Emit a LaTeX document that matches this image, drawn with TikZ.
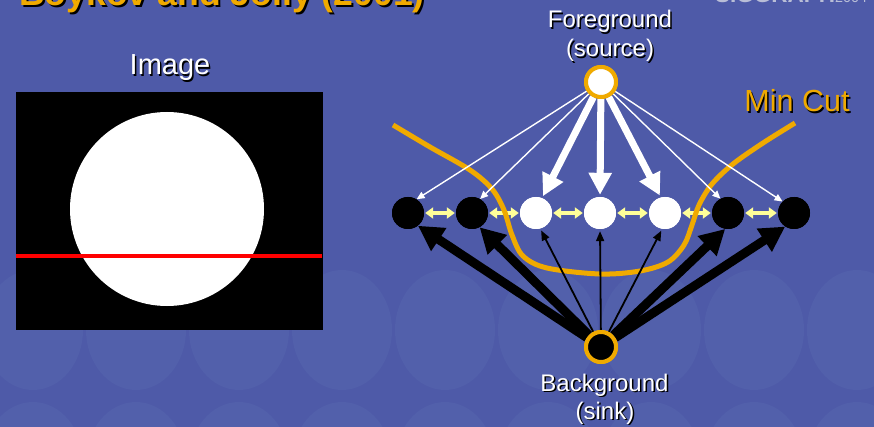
\documentclass[tikz,border=0pt]{standalone}
\usepackage{fontspec}
\setmainfont{Liberation Sans}
\usetikzlibrary{arrows.meta}
\definecolor{bgblue}{RGB}{78,90,168}
\definecolor{bgblob}{RGB}{82,96,171}
\definecolor{cutorange}{RGB}{240,170,0}
\definecolor{pairyellow}{RGB}{255,255,153}
\definecolor{siggrey}{RGB}{185,190,215}
\begin{document}
\begin{tikzpicture}[x=1pt,y=-1pt,
  pix/.style={circle,inner sep=0pt,minimum size=32pt},
  fgpix/.style={pix,fill=white},
  bgpix/.style={pix,fill=black},
  terminal/.style={circle,inner sep=0pt,minimum size=30pt,draw=cutorange,line width=4pt},
  lbl/.style={text=white,font=\fontsize{24}{28}\selectfont,anchor=base,inner sep=0pt},
  biglbl/.style={lbl,font=\fontsize{29}{34}\selectfont},
  cutlbl/.style={lbl,text=cutorange,font=\fontsize{30.5}{36}\selectfont},
  shade/.style={text=black},
  thinw/.style={draw=white,line width=1.4pt,-{Triangle[length=8pt,width=7pt]}},
  thickw/.style={draw=white,line width=7pt,-{Triangle[length=22pt,width=22pt]},shorten >=2pt},
  thickb/.style={draw=black,line width=9pt,-{Triangle[length=25pt,width=26pt]}},
  thinb/.style={draw=black,line width=1.8pt,-{Triangle[length=10pt,width=8pt]},shorten >=2pt},
  pair/.style={draw=pairyellow,line width=4pt,{Triangle[length=8pt,width=11pt]}-{Triangle[length=8pt,width=11pt]},shorten >=1pt,shorten <=1pt},
  cut/.style={draw=cutorange,line width=5pt,line cap=butt}
]
\useasboundingbox (0,0) rectangle (874,427);
\clip (0,0) rectangle (874,427);
\fill[bgblue] (0,0) rectangle (874,427);
% faint background pattern
\foreach \cx in {33,136,239,342,445,548,651,754,857}{
  \fill[bgblob] (\cx,330) ellipse [x radius=50pt, y radius=60pt];
  \fill[bgblob] (\cx,462) ellipse [x radius=50pt, y radius=60pt];
}
% cut-off title and logo
\node[anchor=base west,inner sep=0pt,text=black,font=\bfseries\fontsize{35.6}{40}\selectfont] (titleS) at (21,8) {Boykov and Jolly (2001)};
\node[anchor=base west,inner sep=0pt,text=cutorange,font=\bfseries\fontsize{35.6}{40}\selectfont] (title) at (19,6) {Boykov and Jolly (2001)};
\node[anchor=base west,inner sep=0pt,text=siggrey,font=\bfseries\fontsize{22.5}{24}\selectfont] (sig) at (715,3) {SIGGRAPH{\mdseries\fontsize{14.4}{16}\selectfont 2004}};
% image panel
\node[biglbl,shade] (imgS) at (171.5,76.5) {Image};
\node[biglbl] (img) at (170,75) {Image};
\fill[black] (16,92) rectangle (323,330);
\fill[white] (167,209) circle [radius=97pt];
\draw[red,line width=4pt] (16,256) -- (322,256);
% labels
\node[lbl,shade] (fgS) at (611.5,29.5) {Foreground};
\node[lbl] (fg) at (610,28) {Foreground};
\node[lbl,shade] (srcS) at (611.5,58.5) {(source)};
\node[lbl] (src) at (610,57) {(source)};
\node[lbl,shade] (bgS) at (606,392.5) {Background};
\node[lbl] (bg) at (604.5,391) {Background};
\node[lbl,shade] (snkS) at (606.5,420.5) {(sink)};
\node[lbl] (snk) at (605,419) {(sink)};
\node[cutlbl,shade] (mcS) at (798.5,113.5) {Min Cut};
\node[cutlbl] (mc) at (797,112) {Min Cut};
% nodes
\node[bgpix] (n1) at (408,213) {};
\node[bgpix] (n2) at (472,213) {};
\node[fgpix] (n3) at (536,213) {};
\node[fgpix] (n4) at (600,213) {};
\node[fgpix] (n5) at (665,213) {};
\node[bgpix] (n6) at (728,213) {};
\node[bgpix] (n7) at (794,213) {};
\node[terminal,fill=white] (S) at (601,82) {};
\node[terminal,fill=black] (K) at (601,347) {};
% neighbour links
\draw[pair] (n1) -- (n2);
\draw[pair] (n2) -- (n3);
\draw[pair] (n3) -- (n4);
\draw[pair] (n4) -- (n5);
\draw[pair] (n5) -- (n6);
\draw[pair] (n6) -- (n7);
% min cut
\draw[cut] plot[smooth,tension=0.55] coordinates {(393,125) (430,147) (470,170) (492,189) (504,210) (512,235) (523,256) (547,268) (600,274) (640,271) (668,262) (684,245) (692,225) (699,205) (712,184) (733,164) (763,143) (795,123)};
% source links
\draw[thinw] (S) -- (n1.58);
\draw[thinw] (S) -- (n2.60);
\draw[thinw] (S) -- (n6.118);
\draw[thinw] (S) -- (n7.135);
\draw[thickw] (S) -- (n3.68);
\draw[thickw] (S) -- (n4.north);
\draw[thickw] (S) -- (n5.105);
% sink links
\draw[thickb] (K) -- (n1.-52);
\draw[thickb] (K) -- (n2.-62);
\draw[thickb] (K) -- (n6.-100);
\draw[thickb] (K) -- (n7.-123);
\draw[thinb] (K) -- (n3.-75);
\draw[thinb] (K) -- (n4.south);
\draw[thinb] (K) -- (n5.-100);
% redraw nodes on top
\node[bgpix] at (n1) {};
\node[bgpix] at (n2) {};
\node[fgpix] at (n3) {};
\node[fgpix] at (n4) {};
\node[fgpix] at (n5) {};
\node[bgpix] at (n6) {};
\node[bgpix] at (n7) {};
\node[terminal,fill=white] at (S) {};
\node[terminal,fill=black] at (K) {};
\end{tikzpicture}
\end{document}
